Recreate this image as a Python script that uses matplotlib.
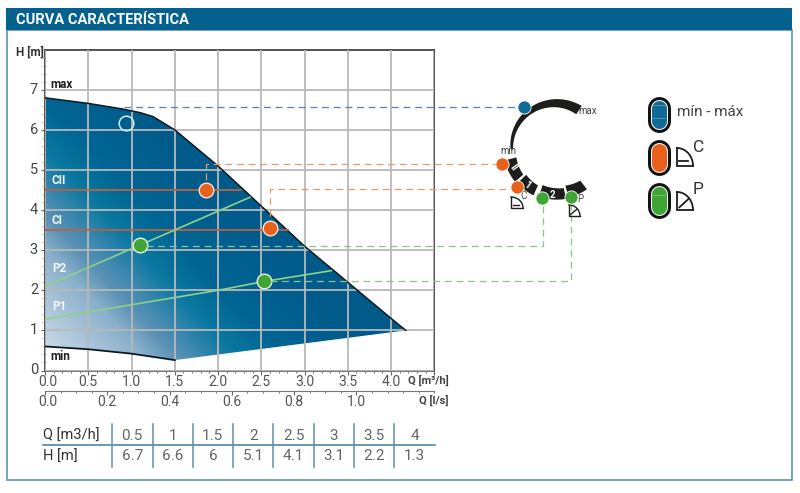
import numpy as np
import matplotlib
matplotlib.use('Agg')
import matplotlib.pyplot as plt
from matplotlib.colors import LinearSegmentedColormap
from matplotlib.patches import Polygon, Rectangle
from matplotlib.ticker import MultipleLocator
from matplotlib.transforms import ScaledTranslation

plt.rcParams['font.family'] = ['Roboto', 'DejaVu Sans']

# envelope of the pump
env_q = [0, 0.5, 0.9, 1.1, 1.25, 1.5, 2, 2.5, 3, 3.5, 4.0, 4.17]
env_h = [6.8, 6.66, 6.52, 6.43, 6.33, 6.0, 5.1, 4.1, 3.1, 2.2, 1.3, 1.0]
min_q = [0, 0.5, 1.0, 1.5]
min_h = [0.6, 0.53, 0.42, 0.26]

cii_q, cii_h = [0, 2.27], [4.5, 4.5]
ci_q, ci_h = [0, 2.81], [3.5, 3.5]
p2_q, p2_h = [0, 1.1, 2.37], [2.1, 3.13, 4.32]
p1_q, p1_h = [0, 1.0, 2.0, 2.53, 3.31], [1.28, 1.64, 2.0, 2.22, 2.49]

white_pt = (0.94, 6.18)
orange_pts = [(1.86, 4.51), (2.6, 3.55)]
green_pts = [(1.1, 3.13), (2.53, 2.22)]

q_ticks = [0, 0.5, 1, 1.5, 2, 2.5, 3, 3.5, 4, 4.5]
q_labels = ['0.0', '0.5', '1.0', '1.5', '2.0', '2.5', '3.0', '3.5', '4.0', '']
ls_ticks = [0, 0.2, 0.4, 0.6, 0.8, 1.0]
h_ticks = [0, 1, 2, 3, 4, 5, 6, 7]

table_q = ['0.5', '1', '1.5', '2', '2.5', '3', '3.5', '4']
table_h = ['6.7', '6.6', '6', '5.1', '4.1', '3.1', '2.2', '1.3']

BLUE = '#0f6a96'
ORANGE = '#e8601c'
GREEN = '#3fa535'
HEADER = '#04618e'
FRAME = '#5f93ad'
TXT = '#333333'

W, H = 800, 493
fig = plt.figure(figsize=(8, 4.93), dpi=100)

# overlay in pixels for the frame, dial, legend and table
ov = fig.add_axes([0, 0, 1, 1], zorder=5)
ov.set_xlim(0, W)
ov.set_ylim(H, 0)
ov.axis('off')
ov.patch.set_alpha(0)

ov.add_patch(Rectangle((6.5, 30), 785, 450, fc='none', ec=FRAME, lw=1.2))
ov.add_patch(Rectangle((6, 8), 786, 22, fc=HEADER, ec='none'))
ov.text(16, 19.5, 'CURVA CARACTERÍSTICA', color='white', fontsize=10.5, fontweight='bold', va='center')

# main chart
ax = fig.add_axes([45 / W, (H - 370.5) / H, 389.3 / W, 320.8 / H], zorder=1)
ax.set_xlim(0, 4.5)
ax.set_ylim(0, 8)

t_max = 6.0
stops = [(0, '#e4ecf4'), (0.26, '#c8d8e6'), (1.29, '#8ab0cc'), (1.63, '#5c93b5'), (1.93, '#3d88b0'),
         (2.36, '#0a78a0'), (2.9, '#006594'), (3.8, '#005c8c'), (6.0, '#005a85')]
cmap = LinearSegmentedColormap.from_list('pump', [(t / t_max, c) for t, c in stops])
qq, hh = np.meshgrid(np.linspace(0, 4.5, 400), np.linspace(0, 8, 400))
im = ax.imshow(qq + 0.43 * hh, extent=(0, 4.5, 0, 8), origin='lower', aspect='auto',
               cmap=cmap, vmin=0, vmax=t_max, zorder=1)
outline = list(zip(env_q, env_h)) + list(zip(min_q, min_h))[::-1]
shape = Polygon(outline, closed=True, fc='none', ec='none', transform=ax.transData)
ax.add_patch(shape)
im.set_clip_path(shape)

ax.set_axisbelow(False)
ax.grid(True, which='major', color='#b9b9b9', lw=1.3)
ax.plot(env_q, env_h, color='#0a1a22', lw=1.1, zorder=3)
ax.plot(min_q, min_h, color='#0a1a22', lw=1.3, zorder=3)

ax.plot(cii_q, cii_h, color='#b9633f', lw=1.3, zorder=3)
ax.plot(ci_q, ci_h, color='#b9633f', lw=1.3, zorder=3)
ax.plot(p2_q, p2_h, color='#8fd08a', lw=1.2, zorder=3)
ax.plot(p1_q, p1_h, color='#8fd08a', lw=1.2, zorder=3)

ax.plot(*white_pt, 'o', ms=10.5, mfc='none', mec='#d5ecf6', mew=1.1, zorder=6)
for pt in orange_pts:
    ax.plot(*pt, 'o', ms=10.5, mfc=ORANGE, mec='#f5e6dc', mew=1.0, zorder=6)
for pt in green_pts:
    ax.plot(*pt, 'o', ms=10.5, mfc=GREEN, mec='#e8f5e4', mew=1.0, zorder=6)

ax.set_xticks(q_ticks)
ax.set_xticklabels(q_labels)
ax.set_yticks(h_ticks)
ax.xaxis.set_minor_locator(MultipleLocator(0.1))
ax.yaxis.set_minor_locator(MultipleLocator(0.2))
ax.tick_params(axis='x', which='major', length=3, width=0.8, color='#666666', labelsize=10,
               labelcolor='#555555', pad=0.5)
ax.tick_params(axis='x', which='minor', length=1.5, width=0.7, color='#777777')
ax.tick_params(axis='y', which='major', length=3, width=0.8, color='#666666', labelsize=10.5,
               labelcolor='#444444', pad=2)
ax.tick_params(axis='y', which='minor', length=1.5, width=0.7, color='#777777')
for side in ['left', 'right', 'top']:
    ax.spines[side].set_color('#222222')
    ax.spines[side].set_linewidth(1.1)
ax.spines['bottom'].set_color('#555555')
ax.spines['bottom'].set_linewidth(1.1)
first = ax.xaxis.get_majorticklabels()[0]
first.set_transform(first.get_transform() + ScaledTranslation(3 / 100, 0, fig.dpi_scale_trans))
for lab in ax.yaxis.get_majorticklabels():
    lab.set_transform(lab.get_transform() + ScaledTranslation(0, 1.5 / 100, fig.dpi_scale_trans))

# second flow scale in l/s
sec = ax.secondary_xaxis(-20 / 320.8, functions=(lambda q: q / 3.6, lambda l: l * 3.6))
sec.set_xticks(ls_ticks)
sec.set_xticklabels(['%.1f' % v for v in ls_ticks])
sec.xaxis.set_minor_locator(MultipleLocator(0.05))
sec.tick_params(axis='x', which='major', length=3, width=0.8, color='#666666', labelsize=10,
                labelcolor='#555555', pad=0.5)
sec.tick_params(axis='x', which='minor', length=1.5, width=0.7, color='#777777')
sec.spines['bottom'].set_color('#777777')
first = sec.xaxis.get_majorticklabels()[0]
first.set_transform(first.get_transform() + ScaledTranslation(3 / 100, 0, fig.dpi_scale_trans))

# labels inside the chart and on the axes
ov.text(16, 52, 'H [m]', fontsize=8.5, fontweight='bold', color=TXT, va='center')
ov.text(408, 380, 'Q [m³/h]', fontsize=8, fontweight='bold', color='#444444', va='center')
ov.text(419, 400, 'Q [l/s]', fontsize=8, fontweight='bold', color='#444444', va='center')
ov.text(50, 84.5, 'max', fontsize=8.5, fontweight='bold', color='#222222', va='center')
ov.text(50, 356, 'min', fontsize=8.5, fontweight='bold', color='#222222', va='center')
for s, x, y in [('CII', 52, 180), ('CI', 52, 221), ('P2', 52, 269), ('P1', 52, 306)]:
    ov.text(x, y, s, fontsize=8.5, fontweight='bold', color='#f2f6fa', va='center')


def to_px(q, h):
    return ov.transData.inverted().transform(ax.transData.transform((q, h)))


def dashed(points, color):
    xs, ys = zip(*points)
    ov.plot(xs, ys, color=color, lw=0.9, dashes=(5.5, 3.8), zorder=2)


# dial position of each operating point
dial_blue = (524, 107)
dial_o1 = (502, 164)
dial_o2 = (517, 187)
dial_g1 = (542, 198)
dial_g2 = (570.5, 197)

x0, y0 = to_px(white_pt[0] - 0.03, white_pt[1])
dashed([(x0, 107), dial_blue], '#5d7fa8')
x0, y0 = to_px(*orange_pts[0])
dashed([(x0, y0 - 10), (x0, 164), dial_o1], '#e69a70')
x0, y0 = to_px(*orange_pts[1])
dashed([(x0, y0 - 12), (x0, 189), (dial_o2[0], 189)], '#e69a70')
x0, y0 = to_px(*green_pts[0])
dashed([(x0 + 6, y0 + 1), (dial_g1[0] + 1, y0 + 1), (dial_g1[0] + 1, dial_g1[1])], '#8cc48c')
x0, y0 = to_px(*green_pts[1])
dashed([(x0 + 6, y0), (dial_g2[0], y0), dial_g2], '#8cc48c')

# dial
cx, cy = 555, 147


def arc_band(a0, a1, r_in0, r_out0, r_in1, r_out1):
    a = np.radians(np.linspace(a0, a1, 60))
    r_in = np.linspace(r_in0, r_in1, 60)
    r_out = np.linspace(r_out0, r_out1, 60)
    xo, yo = cx + r_out * np.cos(a), cy + r_out * np.sin(a)
    xi, yi = cx + r_in * np.cos(a), cy + r_in * np.sin(a)
    return np.column_stack([np.r_[xo, xi[::-1]], np.r_[yo, yi[::-1]]])


ink = '#1d1d1b'
ov.add_patch(Polygon(arc_band(177, 303, 42, 44.5, 39, 49), fc=ink, ec='none', zorder=3))
for a0, a1 in [(165, 139), (136, 114), (108, 78), (75, 53)]:
    ov.add_patch(Polygon(arc_band(a0, a1, 40, 52, 42, 53), fc=ink, ec='none', zorder=3))
ov.text(513, 168, 'II', color='white', fontsize=7, fontweight='bold', ha='center', va='center', rotation=-55, zorder=4)
ov.text(527, 185, '1', color='white', fontsize=7, fontweight='bold', ha='center', va='center', rotation=-35, zorder=4)
ov.text(552, 195, '2', color='white', fontsize=7, fontweight='bold', ha='center', va='center', zorder=4)
ov.text(578, 110.5, 'max', color='#444444', fontsize=7, va='center')
ov.text(500, 151, 'min', color='#444444', fontsize=7, va='center')
for pt, c in [(dial_blue, BLUE), (dial_o1, ORANGE), (dial_o2, ORANGE), (dial_g1, GREEN), (dial_g2, GREEN)]:
    ov.plot(*pt, 'o', ms=9.5, mfc=c, mec='white', mew=0.6, zorder=6)


def icon(x, y, w, h, kind, lw=1.2):
    # small curve symbol next to the control modes
    xs = [x, x, x + w]
    ys = [y, y + h, y + h]
    ov.plot(xs, ys, color=ink, lw=lw, solid_joinstyle='miter', zorder=5)
    a = np.linspace(0, np.pi / 2, 20)
    ov.plot(x + w * np.sin(a), y + h - h * np.cos(a), color=ink, lw=lw, zorder=5)
    if kind == 'C':
        ov.plot([x + 0.15 * w, x + 0.7 * w], [y + 0.7 * h, y + 0.7 * h], color=ink, lw=lw, zorder=5)
    else:
        ov.plot([x + 0.15 * w, x + 0.7 * w], [y + 0.85 * h, y + 0.4 * h], color=ink, lw=lw, zorder=5)


icon(511, 197, 12, 11, 'C', 1.0)
ov.text(520, 196, 'C', fontsize=7, color='#444444', va='center')
icon(569, 205, 11, 11, 'P', 1.0)
ov.text(577, 199, 'P', fontsize=7, color='#444444', va='center')

# legend pills, thick round-capped strokes (72/100 turns pixels into points)
pills = [(96, BLUE), (139, ORANGE), (182.5, GREEN)]
for top, c in pills:
    for width, col in [(23, '#111111'), (17, 'white'), (15, c)]:
        ov.plot([658.5, 658.5], [top + 11.5, top + 24.5], color=col, lw=width * 0.72,
                solid_capstyle='round', zorder=3)
for y in [105, 118, 195]:
    ov.plot([652, 665], [y, y], color='white', lw=0.4, alpha=0.5, zorder=4)

ov.text(677, 112.5, 'mín - máx', fontsize=11, color='#444444', va='center')
icon(677, 148, 16, 18, 'C', 1.3)
ov.text(693, 148, 'C', fontsize=12.5, color='#333333', va='center')
icon(677, 192, 16, 18, 'P', 1.3)
ov.text(693, 190, 'P', fontsize=12.5, color='#333333', va='center')

# table under the chart
row_q, row_h = 435.5, 456.5
col_edges = [112, 152.5, 192.7, 233, 273.3, 313.7, 354, 394.3, 434.5]
ov.text(43, row_q, 'Q [m3/h]', fontsize=10.5, color='#333333', va='center')
ov.text(43, row_h, 'H [m]', fontsize=10.5, color='#333333', va='center')
ov.plot([43, 434.5], [445, 445], color='#3f7f9c', lw=1.1)
for x in col_edges[:-1]:
    ov.plot([x, x], [424, 466.5], color='#5f8fa8', lw=1.1)
for i in range(len(table_q)):
    xc = (col_edges[i] + col_edges[i + 1]) / 2
    ov.text(xc, row_q, table_q[i], fontsize=11, color='#666666', ha='center', va='center')
    ov.text(xc, row_h, table_h[i], fontsize=11, color='#666666', ha='center', va='center')

fig.savefig('out.png', dpi=100)
